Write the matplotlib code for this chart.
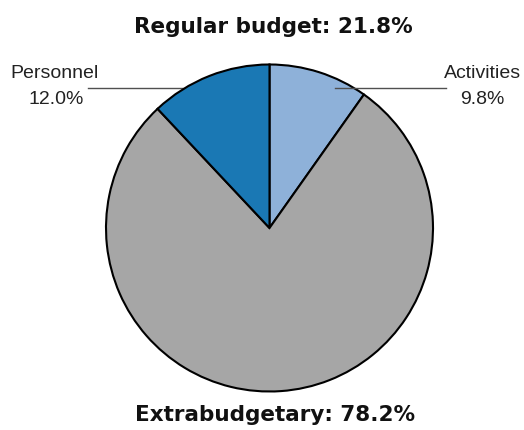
import matplotlib.pyplot as plt

# budget shares (%), clockwise from 12 o'clock
labels = ['Activities', 'Extrabudgetary', 'Personnel']
shares = [9.8, 78.2, 12.0]
colors = ['#8eb1d9', '#a6a6a6', '#1a78b4']
regular_total = shares[0] + shares[2]

fig = plt.figure(figsize=(5.24, 4.30), dpi=100)
ax = fig.add_axes([0, 0, 1, 1])

# leader lines sit under the wedges
ax.plot([88, 187], [342, 342], color='#505050', lw=1, zorder=1)
ax.plot([335, 446], [342, 342], color='#505050', lw=1, zorder=3)

ax.pie(shares, colors=colors, startangle=90, counterclock=False,
       center=(269.5, 202), radius=163.5,
       wedgeprops=dict(edgecolor='black', linewidth=1.5), frame=True)
ax.set_xlim(0, 524)
ax.set_ylim(0, 430)
ax.set_aspect('equal')
ax.axis('off')

lab_font = dict(family='Liberation Sans', fontsize=14, color='#222222')
ax.text(54.5, 357, labels[2], ha='center', va='center', **lab_font)
ax.text(56, 330, f'{shares[2]:.1f}%', ha='center', va='center', **lab_font)
ax.text(482.5, 357, labels[0], ha='center', va='center', **lab_font)
ax.text(482, 330, f'{shares[0]:.1f}%', ha='center', va='center', **lab_font)

title_font = dict(family='DejaVu Sans', fontsize=15.5, fontweight='bold', color='#111111')
ax.text(273.5, 403, f'Regular budget: {regular_total:.1f}%', ha='center', va='center', **title_font)
ax.text(275, 15, f'{labels[1]}: {shares[1]:.1f}%', ha='center', va='center', **title_font)

fig.savefig('out.png', dpi=100)
